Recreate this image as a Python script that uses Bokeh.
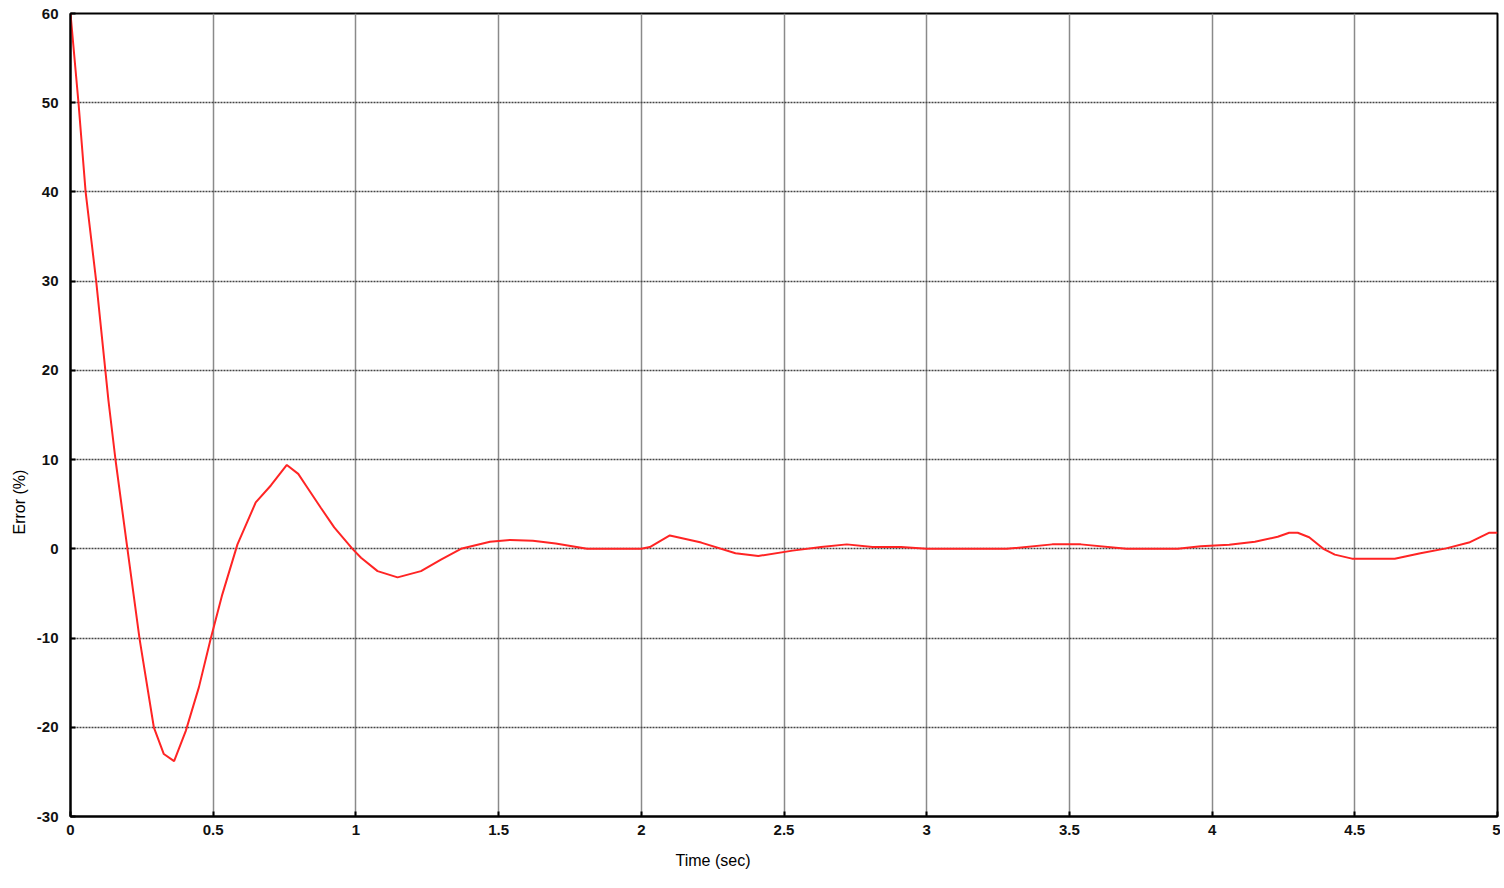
from bokeh.plotting import figure
from bokeh.models import Range1d, FixedTicker, Title
from bokeh.embed import file_html
from bokeh.resources import INLINE

# Data
time_s = [0.0, 0.028, 0.053, 0.09, 0.133, 0.158, 0.199, 0.242, 0.292, 0.327, 0.363,
          0.404, 0.45, 0.491, 0.532, 0.585, 0.649, 0.702, 0.758, 0.798, 0.825, 0.877,
          0.924, 0.988, 1.018, 1.076, 1.146, 1.228, 1.298, 1.368, 1.47, 1.54, 1.62,
          1.70, 1.81, 1.90, 2.0, 2.03, 2.1, 2.21, 2.33, 2.41, 2.53, 2.63, 2.72, 2.81,
          2.91, 3.0, 3.28, 3.44, 3.54, 3.70, 3.79, 3.88, 3.96, 4.06, 4.15, 4.23, 4.27,
          4.30, 4.34, 4.39, 4.43, 4.49, 4.64, 4.73, 4.82, 4.90, 4.97, 5.0]
error_pct = [60.0, 50.0, 40.0, 30.0, 16.6, 9.9, 0.1, -10.1, -20.0, -23.0, -23.8,
             -20.4, -15.5, -10.1, -5.1, 0.5, 5.2, 7.1, 9.4, 8.4, 7.1, 4.6,
             2.4, 0.0, -1.0, -2.5, -3.2, -2.5, -1.2, 0.0, 0.8, 1.0, 0.9,
             0.6, 0.0, 0.0, 0.0, 0.2, 1.5, 0.7, -0.5, -0.8, -0.2, 0.2, 0.5, 0.2,
             0.2, 0.0, 0.0, 0.5, 0.5, 0.0, 0.0, 0.0, 0.3, 0.45, 0.8, 1.35, 1.8,
             1.8, 1.3, 0.0, -0.65, -1.1, -1.1, -0.5, 0.05, 0.7, 1.8, 1.8]

x_ticks = [0, 0.5, 1, 1.5, 2, 2.5, 3, 3.5, 4, 4.5, 5]
x_tick_labels = ["0", "0.5", "1", "1.5", "2", "2.5", "3", "3.5", "4", "4.5", "5"]
y_ticks = [-30, -20, -10, 0, 10, 20, 30, 40, 50, 60]
y_tick_labels = ["-30", "-20", "-10", "0", "10", "20", "30", "40", "50", "60"]
x_title = "Time (sec)"
y_title = "Error  (%)"

p = figure(width=1500, height=886, output_backend="svg", toolbar_location=None,
           x_range=Range1d(0, 5), y_range=Range1d(-30, 60),
           min_border_left=70, min_border_right=3, min_border_top=13, min_border_bottom=70)

p.line(time_s, error_pct, line_color="#ff2424", line_width=2)

p.xaxis.ticker = FixedTicker(ticks=x_ticks)
p.xaxis.major_label_overrides = {t: l for t, l in zip(x_ticks, x_tick_labels)}
p.yaxis.ticker = FixedTicker(ticks=y_ticks)
p.yaxis.major_label_overrides = {t: l for t, l in zip(y_ticks, y_tick_labels)}

for ax in (p.xaxis, p.yaxis):
    ax.axis_line_color = "black"
    ax.axis_line_width = 2
    ax.major_tick_in = 5
    ax.major_tick_out = 0
    ax.major_tick_line_color = "black"
    ax.major_tick_line_width = 2
    ax.minor_tick_line_color = None
    ax.major_label_text_font = "Liberation Sans"
    ax.major_label_text_font_size = "15px"
    ax.major_label_text_font_style = "bold"
    ax.major_label_text_color = "#111111"

p.xaxis.major_label_standoff = 8
p.yaxis.major_label_standoff = 12

xt = Title(text=x_title, align="left", offset=605, text_font="Liberation Sans",
           text_font_size="16px", text_font_style="normal", text_color="black", standoff=24)
yt = Title(text=y_title, align="left", offset=282, text_font="Liberation Sans",
           text_font_size="16px", text_font_style="normal", text_color="black", standoff=12)
p.add_layout(xt, "below")
p.add_layout(yt, "left")

p.xgrid.grid_line_color = "#8a8a8a"
p.xgrid.grid_line_width = 1.5
p.ygrid.grid_line_color = "#444444"
p.ygrid.grid_line_width = 1.5
p.ygrid.grid_line_dash = "2 1"

p.outline_line_color = "black"
p.outline_line_width = 2
p.background_fill_color = "white"
p.border_fill_color = "white"

open("out.html", "w").write(file_html(p, INLINE))
